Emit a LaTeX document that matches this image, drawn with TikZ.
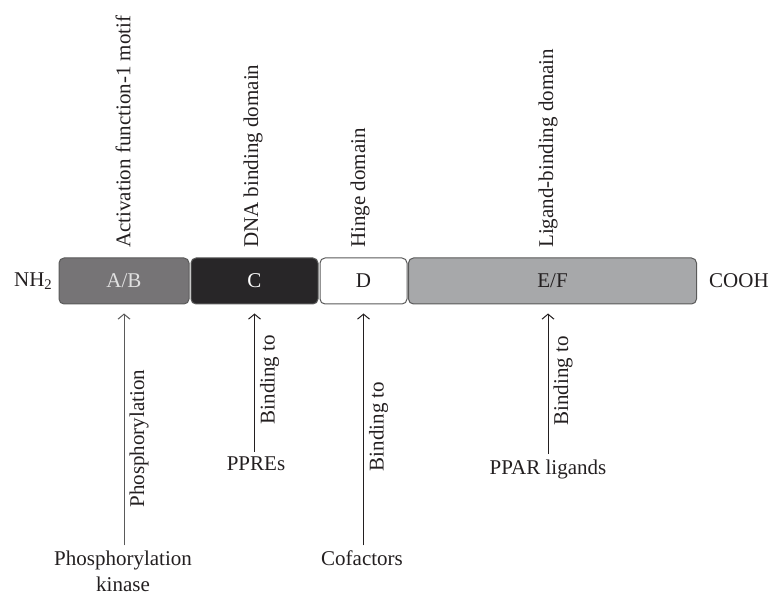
\documentclass[tikz,border=0pt]{standalone}
\usepackage{fontspec}
\setmainfont{Liberation Serif}
\usetikzlibrary{arrows.meta,positioning}

\definecolor{abgray}{RGB}{118,116,118}
\definecolor{cblack}{RGB}{40,38,40}
\definecolor{efgray}{RGB}{167,168,170}
\definecolor{edgegray}{RGB}{90,90,90}
\definecolor{txtgray}{RGB}{35,31,32}

\tikzstyle{dombox} = [rectangle, draw=edgegray, line width=1pt, rounded corners=5pt, minimum height=46pt, inner sep=0pt]
\tikzstyle{annot} = [inner sep=2pt, text=txtgray]
\tikzstyle{sidelabel} = [annot, rotate=90, anchor=north, inner sep=5pt]
\tikzstyle{link} = [->, txtgray, line width=1pt, shorten <=3pt, shorten >=9pt]

\begin{document}
\begin{tikzpicture}[x=1pt, y=-1pt, >={Straight Barb[length=5pt,width=12pt]}, font=\fontsize{21}{25}\selectfont]
\useasboundingbox (0,0) rectangle (771,601);
  % the receptor domains
  \node[dombox, fill=abgray, minimum width=130pt, text=white!88!black] (ab) at (124,281) {A/B};
  \node[dombox, fill=cblack, minimum width=127pt, text=white] (c) at (254.5,281) {C};
  \node[dombox, fill=white, minimum width=87pt, text=txtgray] (d) at (363.5,281) {D};
  \node[dombox, fill=efgray, minimum width=288pt, text=txtgray] (ef) at (552.5,281) {E/F};
  \node[annot, left=4pt of ab] (nh) {NH\textsubscript{2}};
  \node[annot, right=10pt of ef] (cooh) {COOH};
  % names above
  \node[annot, rotate=90, anchor=west] (af1) at (123,250) {Activation function-1 motif};
  \node[annot, rotate=90, anchor=west] (dbd) at (253,250) {DNA binding domain};
  \node[annot, rotate=90, anchor=west] (hinge) at (360,250) {Hinge domain};
  \node[annot, rotate=90, anchor=west] (lbd) at (548,250) {Ligand-binding domain};
  % partners below
  \node[annot, align=center] (kinase) at (123,571) {Phosphorylation\\[1pt]kinase};
  \node[annot] (ppre) at (256,464) {PPREs};
  \node[annot] (cofac) at (362,558) {Cofactors};
  \node[annot] (ligand) at (548,469) {PPAR ligands};
\draw[link, edgegray] (kinase.north -| ab) -- node[sidelabel, pos=0.45] (phos) {Phosphorylation} (ab.south);
\draw[link] (ppre.north -| c) -- node[sidelabel, pos=0.5] (bind1) {Binding to} (c.south);
\draw[link] (cofac.north -| d) -- node[sidelabel, pos=0.5] (bind2) {Binding to} (d.south);
\draw[link] (ligand.north) -- node[sidelabel, pos=0.5] (bind3) {Binding to} (ligand.north |- ef.south);
\end{tikzpicture}
\end{document}
